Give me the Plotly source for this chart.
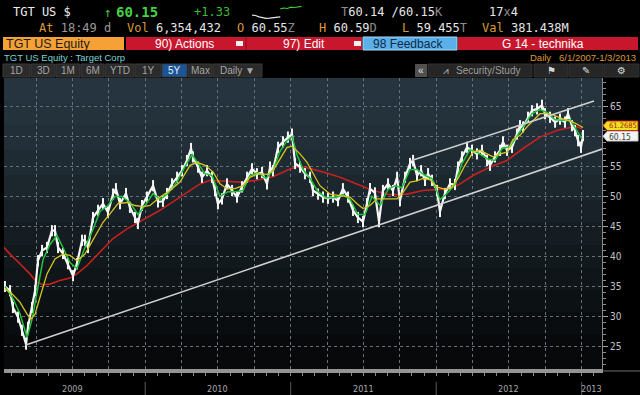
import plotly.graph_objects as go

W, H = 640, 395
PL, PR, PT, PB = 4, 602, 78, 369

def fx(p):
    return p / W

def fy(p):
    return 1 - p / H

# ---------------- data (decimal years, USD) ----------------
price_t = [2009.036, 2009.071, 2009.091, 2009.126, 2009.153, 2009.181, 2009.194, 2009.222, 2009.243, 2009.263,
           2009.291, 2009.325, 2009.359, 2009.380, 2009.401, 2009.435, 2009.469, 2009.504, 2009.531, 2009.566,
           2009.586, 2009.607, 2009.641, 2009.676, 2009.710, 2009.744, 2009.779, 2009.799, 2009.827, 2009.868,
           2009.895, 2009.930, 2009.950, 2009.978, 2010.012, 2010.054, 2010.088, 2010.122, 2010.150, 2010.184,
           2010.219, 2010.253, 2010.287, 2010.315, 2010.328, 2010.363, 2010.390, 2010.425, 2010.459, 2010.480,
           2010.500, 2010.528, 2010.562, 2010.597, 2010.631, 2010.665, 2010.700, 2010.734, 2010.768, 2010.803,
           2010.837, 2010.858, 2010.878, 2010.913, 2010.947, 2010.981, 2011.009, 2011.030, 2011.064, 2011.098,
           2011.133, 2011.153, 2011.188, 2011.222, 2011.256, 2011.291, 2011.325, 2011.359, 2011.394, 2011.428,
           2011.462, 2011.497, 2011.524, 2011.545, 2011.579, 2011.607, 2011.634, 2011.669, 2011.703, 2011.731,
           2011.751, 2011.786, 2011.820, 2011.841, 2011.868, 2011.896, 2011.923, 2011.944, 2011.971, 2012.005,
           2012.026, 2012.060, 2012.095, 2012.129, 2012.150, 2012.177, 2012.212, 2012.246, 2012.280, 2012.315,
           2012.349, 2012.370, 2012.404, 2012.439, 2012.459, 2012.487, 2012.521, 2012.555, 2012.576, 2012.597,
           2012.631, 2012.658, 2012.693, 2012.727, 2012.748, 2012.782, 2012.817, 2012.851, 2012.885, 2012.906,
           2012.933, 2012.954, 2012.975, 2012.995, 2013.009]
price_v = [35.0, 34.3, 31.5, 29.9, 27.7, 25.4, 28.2, 31.5, 34.3, 39.3,
           41.0, 41.5, 44.3, 44.3, 41.5, 40.5, 38.8, 36.8, 38.8, 42.7,
           42.7, 41.5, 46.5, 47.7, 48.8, 47.4, 50.4, 51.3, 48.8, 50.5,
           48.2, 46.5, 45.5, 48.5, 49.9, 51.8, 49.1, 49.2, 50.5, 52.1,
           53.2, 54.3, 56.0, 58.0, 56.6, 54.9, 53.2, 54.3, 53.2, 51.0,
           48.8, 49.6, 52.1, 51.0, 49.9, 51.6, 53.2, 54.6, 53.8, 54.0,
           52.1, 54.9, 54.3, 58.2, 59.1, 59.9, 60.4, 55.5, 54.9, 53.8,
           53.2, 51.0, 50.4, 49.9, 49.7, 49.9, 49.3, 51.3, 49.9, 47.7,
           46.5, 45.8, 48.8, 51.3, 50.6, 45.8, 51.0, 52.1, 51.0, 53.2,
           49.3, 53.2, 55.5, 56.0, 53.5, 54.3, 52.7, 53.8, 52.7, 51.0,
           47.5, 50.5, 52.1, 52.0, 54.9, 56.6, 58.2, 57.7, 57.1, 57.7,
           56.0, 55.2, 56.6, 57.7, 59.1, 57.7, 58.2, 60.4, 61.8, 61.6,
           63.2, 64.3, 64.6, 65.2, 63.8, 63.2, 62.4, 62.9, 62.4, 63.8,
           61.8, 61.0, 59.3, 58.2, 60.15]

ma_short_t = [2009.036, 2009.091, 2009.139, 2009.188, 2009.222, 2009.256, 2009.298, 2009.346, 2009.394, 2009.435,
              2009.483, 2009.531, 2009.586, 2009.641, 2009.689, 2009.744, 2009.792, 2009.840, 2009.895, 2009.950,
              2009.999, 2010.054, 2010.102, 2010.157, 2010.219, 2010.273, 2010.322, 2010.363, 2010.411, 2010.459,
              2010.514, 2010.569, 2010.617, 2010.672, 2010.720, 2010.775, 2010.830, 2010.878, 2010.926, 2010.975,
              2011.009, 2011.043, 2011.085, 2011.133, 2011.188, 2011.243, 2011.304, 2011.359, 2011.408, 2011.462,
              2011.511, 2011.559, 2011.614, 2011.669, 2011.717, 2011.765, 2011.820, 2011.868, 2011.923, 2011.971,
              2012.026, 2012.074, 2012.129, 2012.177, 2012.232, 2012.287, 2012.349, 2012.404, 2012.452, 2012.507,
              2012.555, 2012.610, 2012.658, 2012.713, 2012.762, 2012.817, 2012.865, 2012.920, 2012.968, 2013.002]
ma_short_v = [35.0, 33.0, 30.5, 26.5, 29.5, 34.0, 39.5, 42.0, 43.5, 41.5,
              39.0, 38.0, 41.5, 44.5, 47.5, 48.5, 50.0, 50.0, 49.0, 47.0,
              48.5, 50.5, 49.5, 50.5, 52.5, 55.0, 57.0, 55.5, 53.8, 53.5,
              50.0, 50.8, 50.8, 51.0, 53.5, 54.0, 53.0, 54.3, 57.5, 59.3,
              60.0, 57.0, 54.5, 53.0, 50.8, 49.8, 49.8, 50.3, 49.5, 47.0,
              47.0, 50.0, 48.5, 51.2, 51.8, 51.5, 54.5, 54.5, 53.5, 53.0,
              49.5, 50.5, 52.0, 55.5, 57.8, 57.3, 56.3, 56.0, 58.0, 58.3,
              60.0, 62.0, 63.8, 64.5, 64.0, 62.8, 62.7, 62.8, 61.0, 59.6]

ma_mid_t = [2009.036, 2009.084, 2009.139, 2009.188, 2009.215, 2009.243, 2009.277, 2009.325, 2009.380, 2009.435,
            2009.483, 2009.531, 2009.586, 2009.641, 2009.710, 2009.758, 2009.813, 2009.875, 2009.930, 2009.985,
            2010.033, 2010.102, 2010.170, 2010.239, 2010.308, 2010.356, 2010.411, 2010.466, 2010.514, 2010.562,
            2010.617, 2010.672, 2010.720, 2010.775, 2010.837, 2010.878, 2010.926, 2010.975, 2011.009, 2011.064,
            2011.112, 2011.153, 2011.201, 2011.270, 2011.339, 2011.408, 2011.456, 2011.497, 2011.545, 2011.593,
            2011.682, 2011.731, 2011.772, 2011.820, 2011.868, 2011.909, 2011.957, 2012.005, 2012.060, 2012.109,
            2012.150, 2012.198, 2012.253, 2012.301, 2012.349, 2012.390, 2012.439, 2012.487, 2012.528, 2012.576,
            2012.624, 2012.665, 2012.713, 2012.762, 2012.803, 2012.851, 2012.899, 2012.940, 2012.988, 2013.009]
ma_mid_v = [34.6, 33.8, 32.4, 30.4, 29.6, 30.4, 33.2, 37.1, 39.6, 40.4,
            40.2, 39.3, 40.4, 42.7, 45.7, 47.1, 48.8, 49.0, 48.5, 48.3,
            48.5, 49.9, 51.0, 52.4, 55.2, 55.7, 55.2, 54.1, 52.1, 51.3,
            51.3, 51.8, 53.2, 53.8, 53.7, 54.3, 56.3, 58.2, 58.4, 57.1,
            55.7, 53.8, 51.8, 50.4, 50.2, 49.9, 48.8, 48.0, 48.5, 49.6,
            49.6, 49.6, 50.7, 52.4, 52.6, 53.0, 52.8, 51.6, 51.2, 51.6,
            53.0, 55.2, 57.4, 57.7, 57.1, 56.6, 57.1, 57.4, 59.5, 60.2,
            61.6, 62.7, 63.8, 63.8, 63.6, 63.1, 62.7, 62.4, 61.8, 61.5]

ma_long_t = [2009.018, 2009.071, 2009.139, 2009.208, 2009.256, 2009.298, 2009.346, 2009.414, 2009.483, 2009.531,
             2009.600, 2009.689, 2009.779, 2009.875, 2009.964, 2010.033, 2010.102, 2010.239, 2010.377, 2010.445,
             2010.535, 2010.652, 2010.768, 2010.878, 2010.995, 2011.050, 2011.112, 2011.222, 2011.339, 2011.456,
             2011.566, 2011.682, 2011.799, 2011.909, 2012.026, 2012.095, 2012.164, 2012.253, 2012.370, 2012.487,
             2012.597, 2012.713, 2012.830, 2012.920, 2012.968, 2013.002]
ma_long_v = [41.8, 40.4, 38.8, 37.1, 35.7, 35.3, 35.4, 36.0, 36.4, 37.1,
             38.5, 40.7, 43.0, 44.6, 45.8, 46.8, 47.7, 49.9, 52.1, 52.7,
             52.6, 52.4, 52.7, 53.3, 54.6, 55.0, 54.8, 54.1, 53.2, 52.1,
             51.0, 50.3, 50.4, 51.0, 51.2, 51.3, 52.1, 53.5, 54.9, 56.0,
             58.0, 59.9, 61.0, 61.5, 61.6, 61.3]

support_t = [2009.174, 2013.139]
support_v = [25.2, 57.9]
channel_t = [2011.831, 2013.085]
channel_v = [56.0, 65.9]

spark_white = [3.0, 2.8, 2.0, 1.3, 1.0, 1.2, 1.5, 1.8, 2.0]
spark_green = [7.0, 7.5, 7.2, 8.0, 7.8, 8.3, 8.5]

y_ticks = [25, 30, 35, 40, 45, 50, 55, 60, 65]
y_tick_text = ["25", "30", "35", "40", "45", "50", "55", "", "65"]  # 60 is hidden under the price tag
quarter_ticks = [2009 + q * 0.25 for q in range(17)]
month_ticks = [2009 + m / 12 for m in range(50)]
year_labels = ["2009", "2010", "2011", "2012", "2013"]
year_label_pos = [2009.5, 2010.5, 2011.5, 2012.5, 2013.07]
year_bounds = [2010, 2011, 2012, 2013]

last_price = 60.15
ma_tag_text = "61.2685"

X0 = 2009 + 4.3 / 145.5
X1 = 2009 + 602.3 / 145.5
Y0, Y1 = 21.25, 69.75

# ---------------- figure ----------------
fig = go.Figure()
fig.add_trace(go.Scatter(x=ma_long_t, y=ma_long_v, mode="lines",
                         line=dict(color="#c8201e", width=1.6), hoverinfo="skip"))
fig.add_trace(go.Scatter(x=price_t, y=price_v, mode="lines+markers",
                         line=dict(color="#f6f6f6", width=2.2),
                         marker=dict(symbol="line-ns-open", size=8, color="#f6f6f6",
                                     line=dict(color="#f6f6f6", width=2)),
                         hoverinfo="skip"))
fig.add_trace(go.Scatter(x=ma_short_t, y=ma_short_v, mode="lines",
                         line=dict(color="#1fc23a", width=1.5), hoverinfo="skip"))
fig.add_trace(go.Scatter(x=ma_mid_t, y=ma_mid_v, mode="lines",
                         line=dict(color="#d6c61c", width=1.3), hoverinfo="skip"))
fig.add_trace(go.Scatter(x=support_t, y=support_v, mode="lines",
                         line=dict(color="#d0d0d0", width=1.6), hoverinfo="skip"))
fig.add_trace(go.Scatter(x=channel_t, y=channel_v, mode="lines",
                         line=dict(color="#d0d0d0", width=1.6), hoverinfo="skip"))
# header sparkline
fig.add_trace(go.Scatter(x=list(range(len(spark_white))), y=spark_white, mode="lines",
                         line=dict(color="#e8e8e8", width=1.2), xaxis="x2", yaxis="y2", hoverinfo="skip"))
fig.add_trace(go.Scatter(x=list(range(len(spark_white) - 1, len(spark_white) - 1 + len(spark_green))),
                         y=spark_green, mode="lines",
                         line=dict(color="#3cc83c", width=1.2), xaxis="x2", yaxis="y2", hoverinfo="skip"))

MONO = "DejaVu Sans Mono, Liberation Mono, monospace"
SANS = "Liberation Sans, Arial, sans-serif"
NARROW = "Liberation Sans Narrow, DejaVu Sans Condensed, Liberation Sans, sans-serif"

shapes = []
annotations = []


def rect(x0, y0, x1, y1, fill, line=None, lw=0, layer="below"):
    shapes.append(dict(type="rect", xref="paper", yref="paper",
                       x0=fx(x0), x1=fx(x1), y0=fy(y1), y1=fy(y0),
                       fillcolor=fill, line=dict(color=line or fill, width=lw), layer=layer))


def hline(x0, x1, y, color, w=1, layer="below"):
    shapes.append(dict(type="line", xref="paper", yref="paper", x0=fx(x0), x1=fx(x1),
                       y0=fy(y), y1=fy(y), line=dict(color=color, width=w), layer=layer))


def vline(x, y0, y1, color, w=1, layer="below"):
    shapes.append(dict(type="line", xref="paper", yref="paper", x0=fx(x), x1=fx(x),
                       y0=fy(y0), y1=fy(y1), line=dict(color=color, width=w), layer=layer))


def text(t, x, y, size, color, family=SANS, xanchor="left"):
    annotations.append(dict(text=t, x=fx(x), y=fy(y), xref="paper", yref="paper",
                            showarrow=False, xanchor=xanchor, yanchor="middle",
                            font=dict(size=size, color=color, family=family),
                            borderpad=0, borderwidth=0))


# plot background gradient bands
bands = [(78, 100, "#26343f"), (100, 125, "#24323c"), (125, 150, "#222f38"), (150, 175, "#1f2b33"),
         (175, 200, "#1b262d"), (200, 222, "#182128"), (222, 245, "#151d22"), (245, 268, "#12191d"),
         (268, 290, "#0f1518"), (290, 312, "#0c1113"), (312, 335, "#0a0d0f"), (335, 369, "#07090a")]
for a, b, c in bands:
    rect(PL, a, PR, b, c)

# header row 1 / 2
O = "#d99a38"
G = "#8c8c8c"
text("TGT US $", 13, 12.5, 12, "#ececec", MONO)
text("↑", 104, 12.5, 13, "#3fc23f", MONO)
text("<b>60.15</b>", 116, 12.5, 14, "#45d045", MONO)
text("+1.33", 194, 12.5, 12, "#3bbd3b", MONO)
text(f"<span style='color:{G}'>T</span>60.14 /60.15<span style='color:{G}'>K</span>", 341, 12.5, 12, "#e6e6e6", MONO)
text(f"17<span style='color:{G}'>x</span>4", 489, 12.5, 12, "#e6e6e6", MONO)

text(f"<span style='color:{O}'>At</span> <span style='color:#9a9a9a'>18:49 d</span>", 39, 28.5, 12, "#e6e6e6", MONO)
text(f"<span style='color:{O}'>Vol</span> 6,354,432", 127, 28.5, 12, "#e6e6e6", MONO)
text(f"<span style='color:{O}'>O</span> 60.55<span style='color:{G}'>Z</span>", 237, 28.5, 12, "#e6e6e6", MONO)
text(f"<span style='color:{O}'>H</span> 60.59<span style='color:{G}'>D</span>", 319, 28.5, 12, "#e6e6e6", MONO)
text(f"<span style='color:{O}'>L</span> 59.455<span style='color:{G}'>T</span>", 402, 28.5, 12, "#e6e6e6", MONO)
text(f"<span style='color:{O}'>Val</span> 381.438M", 482, 28.5, 12, "#e6e6e6", MONO)

# row 3 bars
rect(3, 37, 124, 50, "#f5a136")
rect(126, 37, 362, 50, "#c8162d")
rect(458, 37, 638, 50, "#c8162d")
rect(363, 37, 457, 50, "#5cb0ea", "#a8d6f4", 1)
vline(246, 37, 50, "#8a0f1f", 1)
rect(236, 41, 243, 46, "#f0f0f0")
rect(354, 41, 361, 46, "#f0f0f0")
text("TGT US Equity", 6, 43.5, 12.5, "#1c1c1c", SANS)
text("90) Actions", 155, 43.5, 12, "#ffffff", SANS)
text("97) Edit", 283, 43.5, 12, "#ffffff", SANS)
text("98 Feedback", 373, 43.5, 12, "#0f2a47", SANS)
text("G 14 - technika", 502, 43.5, 12, "#ffffff", SANS)

# row 4
text("TGT US Equity : Target Corp", 4, 57.5, 9.5, "#79d2d4", SANS)
text(f"Daily&nbsp;&nbsp;&nbsp;6/1/2007-1/3/2013", 636, 57.5, 9.5, "#dc9a34", SANS, xanchor="right")

# row 5 buttons
btns = [("1D", 3, 30), ("3D", 31, 55), ("1M", 56, 80), ("6M", 81, 104), ("YTD", 105, 134),
        ("1Y", 135, 161), ("5Y", 162, 187), ("Max", 188, 212), ("Daily ▼", 213, 262)]
for lab, a, b in btns:
    sel = lab == "5Y"
    rect(a, 64, b, 77, "#1c5596" if sel else "#2b2b2b", "#3a3a3a", 1)
    text(lab, (a + b) / 2, 70.5, 10, "#e6eef6" if sel else "#a5a5a5", SANS, xanchor="center")
rect(415, 64, 427, 77, "#505050")
text("«", 421, 70.5, 10, "#e0e0e0", SANS, xanchor="center")
rect(428, 64, 532, 77, "#262626", "#333333", 1)
text("Security/Study", 456, 70.5, 10, "#9c9c9c", SANS)
text("⩘", 446, 70.5, 10, "#bdbdbd", "DejaVu Sans", xanchor="center")
for (a, b, g) in [(534, 568, "⚑"), (569, 603, "✎"), (604, 639, "⚙")]:
    rect(a, 64, b, 77, "#262626", "#333333", 1)
    text(g, (a + b) / 2, 70.5, 10, "#d8d8d8", "DejaVu Sans", xanchor="center")

# bottom axis decorations
hline(603, 640, 371, "#6e6e6e", 1)
for yb in year_bounds:
    shapes.append(dict(type="line", xref="x", yref="paper", x0=yb, x1=yb,
                       y0=fy(395), y1=fy(382), line=dict(color="#5a5a5a", width=1), layer="above"))
for lab, pos in zip(year_labels, year_label_pos):
    annotations.append(dict(text=lab, x=pos, y=fy(389), xref="x", yref="paper", showarrow=False,
                            xanchor="center", yanchor="middle",
                            font=dict(size=9, color="#a8a8a8", family=NARROW)))

# right price tags
def tag(y0, y1, fill, border):
    ym = (y0 + y1) / 2
    path = (f"M {fx(603)} {fy(ym)} L {fx(607)} {fy(y0)} L {fx(638)} {fy(y0)} "
            f"L {fx(638)} {fy(y1)} L {fx(607)} {fy(y1)} Z")
    shapes.append(dict(type="path", xref="paper", yref="paper", path=path,
                       fillcolor=fill, line=dict(color=border, width=1), layer="above"))


tag(121.0, 130.5, "#ece21e", "#d02020")
text(ma_tag_text, 609, 125.6, 7.5, "#b01818", NARROW)
tag(131.5, 141.0, "#f4f4f4", "#c8c8c8")
text(f"{last_price:.2f}", 609, 136.6, 8.5, "#3a4632", NARROW)

fig.update_layout(
    width=W, height=H,
    margin=dict(l=0, r=0, t=0, b=0, pad=0),
    paper_bgcolor="#000000",
    plot_bgcolor="rgba(0,0,0,0)",
    showlegend=False,
    shapes=shapes,
    annotations=annotations,
    xaxis=dict(domain=[fx(PL), fx(PR)], range=[X0, X1], tickvals=quarter_ticks,
               showticklabels=False, ticks="outside", ticklen=3, tickcolor="#8a8a8a",
               showgrid=True, gridcolor="#65717a", griddash="dot", gridwidth=1,
               showline=True, linecolor="#949494", linewidth=4, zeroline=False,
               minor=dict(tickvals=month_ticks, ticks="outside", ticklen=3, tickcolor="#8a8a8a",
                          showgrid=False),
               fixedrange=True),
    yaxis=dict(domain=[fy(PB), fy(PT)], range=[Y0, Y1], side="right", tickvals=y_ticks,
               ticktext=y_tick_text,
               ticks="outside", ticklen=5, tickcolor="#a0a0a0", showline=True,
               linecolor="#8a8a8a", linewidth=1, showgrid=True, gridcolor="#65717a",
               griddash="dot", gridwidth=1, zeroline=False,
               tickfont=dict(size=10, color="#c4c4c4", family=NARROW),
               minor=dict(dtick=1, ticks="outside", ticklen=3, tickcolor="#8a8a8a", showgrid=False),
               fixedrange=True),
    xaxis2=dict(domain=[fx(252), fx(305)], range=[0, 15], visible=False, anchor="y2"),
    yaxis2=dict(domain=[fy(20), fy(4)], range=[0, 10], visible=False, anchor="x2"),
)

fig.write_html("out.html")
